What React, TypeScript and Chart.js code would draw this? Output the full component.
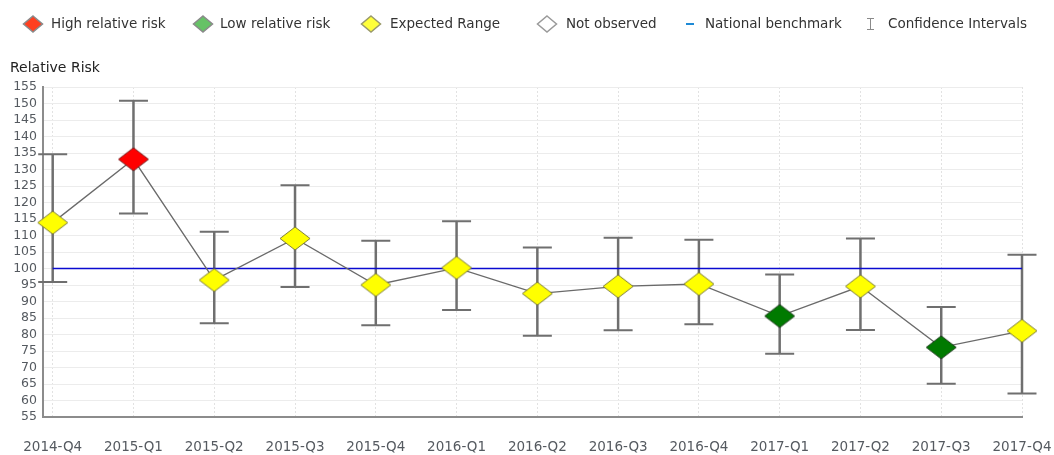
import React, { useEffect, useRef } from 'react';
import { Chart, registerables } from 'chart.js';

Chart.register(...registerables);

const categories = [
  '2014-Q4', '2015-Q1', '2015-Q2', '2015-Q3', '2015-Q4', '2016-Q1', '2016-Q2',
  '2016-Q3', '2016-Q4', '2017-Q1', '2017-Q2', '2017-Q3', '2017-Q4',
];
const relativeRisk = [113.9, 133.1, 96.5, 109.1, 95.0, 100.2, 92.4, 94.6, 95.3, 85.6, 94.6, 76.1, 81.1];
const ciUpper = [134.6, 150.8, 111.1, 125.2, 108.4, 114.3, 106.4, 109.3, 108.7, 98.2, 109.1, 88.3, 104.2];
const ciLower = [95.9, 116.7, 83.4, 94.4, 82.8, 87.4, 79.6, 81.3, 83.1, 74.2, 81.4, 65.1, 62.1];
const nationalBenchmark = 100;

const yMin = 55;
const yMax = 155;
const yStep = 5;

const legendLabels = [
  'High relative risk',
  'Low relative risk',
  'Expected Range',
  'Not observed',
  'National benchmark',
  'Confidence Intervals',
];
const legendSymbolX = [33, 203, 371, 547, 690, 870];
const legendTextX = [51, 220, 390, 566, 705, 888];

const FONT = "'DejaVu Sans', Verdana, sans-serif";

function makeDiamond(w: number, h: number, fill: string, stroke: string) {
  const c = document.createElement('canvas');
  c.width = w + 2;
  c.height = h + 2;
  const ctx = c.getContext('2d')!;
  const cx = c.width / 2;
  const cy = c.height / 2;
  ctx.beginPath();
  ctx.moveTo(cx, cy - h / 2);
  ctx.lineTo(cx + w / 2, cy);
  ctx.lineTo(cx, cy + h / 2);
  ctx.lineTo(cx - w / 2, cy);
  ctx.closePath();
  ctx.fillStyle = fill;
  ctx.fill();
  ctx.lineWidth = 1;
  ctx.strokeStyle = stroke;
  ctx.stroke();
  return c;
}

function drawLegendDiamond(ctx: CanvasRenderingContext2D, x: number, y: number, fill: string, stroke: string) {
  const w = 19;
  const h = 16;
  ctx.beginPath();
  ctx.moveTo(x, y - h / 2);
  ctx.lineTo(x + w / 2, y);
  ctx.lineTo(x, y + h / 2);
  ctx.lineTo(x - w / 2, y);
  ctx.closePath();
  ctx.fillStyle = fill;
  ctx.fill();
  ctx.lineWidth = 1.5;
  ctx.strokeStyle = stroke;
  ctx.stroke();
}

export default function App() {
  const canvasRef = useRef<HTMLCanvasElement | null>(null);

  useEffect(() => {
    if (!canvasRef.current) return;

    const markers = {
      high: makeDiamond(30, 23, '#ff0000', '#7a2020'),
      low: makeDiamond(30, 23, '#007a00', '#1f3d1f'),
      expected: makeDiamond(30, 23, '#ffff00', '#7d7d3a'),
    };
    const status = relativeRisk.map((_, i) =>
      ciLower[i] > nationalBenchmark ? 'high' : ciUpper[i] < nationalBenchmark ? 'low' : 'expected'
    );

    const errorBars = {
      id: 'errorBars',
      beforeDatasetsDraw(chart: any) {
        const { ctx } = chart;
        const xs = chart.scales.x;
        const ys = chart.scales.y;
        ctx.save();
        ctx.strokeStyle = '#6f6f6f';
        categories.forEach((_, i) => {
          const x = xs.getPixelForValue(i);
          const yt = ys.getPixelForValue(ciUpper[i]);
          const yb = ys.getPixelForValue(ciLower[i]);
          ctx.lineWidth = 2.5;
          ctx.beginPath();
          ctx.moveTo(x, yt);
          ctx.lineTo(x, yb);
          ctx.stroke();
          ctx.lineWidth = 2;
          ctx.beginPath();
          ctx.moveTo(x - 14.5, yt);
          ctx.lineTo(x + 14.5, yt);
          ctx.moveTo(x - 14.5, yb);
          ctx.lineTo(x + 14.5, yb);
          ctx.stroke();
        });
        ctx.restore();
      },
    };

    const decor = {
      id: 'decor',
      afterDraw(chart: any) {
        const { ctx } = chart;
        ctx.save();
        // axis title
        ctx.font = `14px ${FONT}`;
        ctx.fillStyle = '#222';
        ctx.textAlign = 'left';
        ctx.textBaseline = 'alphabetic';
        ctx.fillText('Relative Risk', 10, 72);

        // legend
        const ly = 24;
        drawLegendDiamond(ctx, legendSymbolX[0], ly, '#ff4020', '#8a8a8a');
        drawLegendDiamond(ctx, legendSymbolX[1], ly, '#66c266', '#8a8a8a');
        drawLegendDiamond(ctx, legendSymbolX[2], ly, '#ffff3a', '#9a9a6a');
        drawLegendDiamond(ctx, legendSymbolX[3], ly, '#ffffff', '#9a9a9a');
        ctx.fillStyle = '#1e8ad6';
        ctx.fillRect(legendSymbolX[4] - 4, ly - 1, 8, 2);
        ctx.strokeStyle = '#8a8a8a';
        ctx.lineWidth = 1;
        const ix = legendSymbolX[5] + 0.5;
        ctx.beginPath();
        ctx.moveTo(ix, ly - 5);
        ctx.lineTo(ix, ly + 5);
        ctx.moveTo(ix - 3.5, ly - 5.5);
        ctx.lineTo(ix + 3.5, ly - 5.5);
        ctx.moveTo(ix - 3.5, ly + 5.5);
        ctx.lineTo(ix + 3.5, ly + 5.5);
        ctx.stroke();

        ctx.font = `13.5px ${FONT}`;
        ctx.fillStyle = '#333';
        ctx.textBaseline = 'middle';
        legendLabels.forEach((t, i) => ctx.fillText(t, legendTextX[i], ly));
        ctx.restore();
      },
    };

    const chart = new Chart(canvasRef.current, {
      type: 'line',
      data: {
        datasets: [
          {
            label: 'Relative risk',
            data: categories.map((_, i) => ({ x: i, y: relativeRisk[i] })),
            borderColor: '#6a6a6a',
            borderWidth: 1.3,
            pointStyle: (c: any) => (markers as any)[status[c.dataIndex]],
            pointRadius: 12,
            pointHoverRadius: 12,
            clip: false,
            order: 1,
          } as any,
          {
            label: 'National benchmark',
            data: categories.map((_, i) => ({ x: i, y: nationalBenchmark })),
            borderColor: '#0a0ad0',
            borderWidth: 1.5,
            pointRadius: 0,
            order: 2,
          },
        ],
      },
      options: {
        animation: false,
        responsive: false,
        devicePixelRatio: 1,
        layout: { padding: { top: 87, right: 32, left: 0, bottom: 0 } },
        plugins: {
          legend: { display: false },
          title: { display: false },
          tooltip: { enabled: false },
        },
        scales: {
          x: {
            type: 'linear',
            min: -0.12,
            max: 12,
            afterBuildTicks: (s: any) => {
              s.ticks = categories.map((_, i) => ({ value: i }));
            },
            afterFit: (s: any) => {
              s.height = 38;
              s.paddingLeft = 0;
              s.paddingRight = 0;
            },
            ticks: {
              callback: (v: any) => categories[v] ?? '',
              font: { family: FONT, size: 13.5 },
              color: '#555a60',
              padding: 22,
              maxRotation: 0,
              autoSkip: false,
            },
            grid: { color: '#e2e2e2', drawTicks: false, lineWidth: 1 },
            border: { display: true, color: '#8c8c8c', width: 2, dash: [2, 2] },
          },
          y: {
            min: yMin,
            max: yMax,
            afterFit: (s: any) => {
              s.width = 43;
              s.paddingTop = 0;
              s.paddingBottom = 0;
            },
            ticks: {
              stepSize: yStep,
              autoSkip: false,
              font: { family: FONT, size: 12.5 },
              color: '#555a60',
              padding: 6,
            },
            grid: { color: '#ececec', drawTicks: false, lineWidth: 1 },
            border: { display: true, color: '#8c8c8c', width: 2 },
          },
        },
      } as any,
      plugins: [errorBars, decor],
    });

    return () => chart.destroy();
  }, []);

  return (
    <div style={{ position: 'absolute', left: 0, top: 0, width: 1054, height: 455, background: '#fff' }}>
      <canvas ref={canvasRef} width={1054} height={455} style={{ display: 'block' }} />
    </div>
  );
}
